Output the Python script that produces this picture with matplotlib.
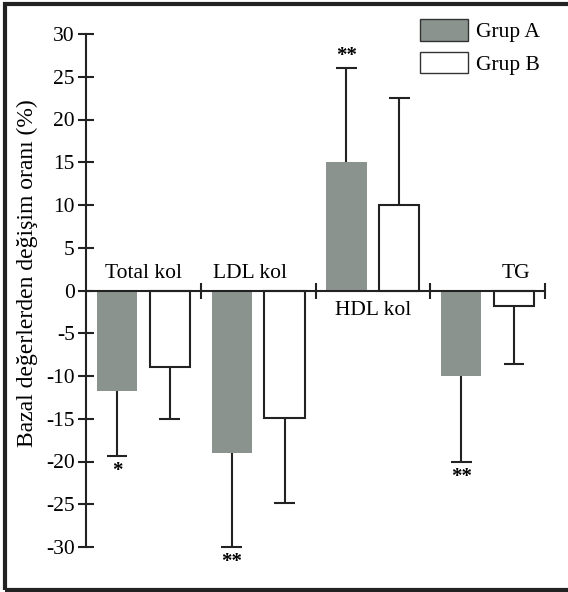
import matplotlib
matplotlib.use("Agg")
import matplotlib.pyplot as plt
import numpy as np
from matplotlib.patches import Rectangle

plt.rcParams['font.family'] = ['Liberation Serif', 'DejaVu Serif']
plt.rcParams['axes.unicode_minus'] = False

# data
groups = ["Total kol", "LDL kol", "HDL kol", "TG"]
grup_a = [-11.8, -19.0, 15.0, -10.0]
grup_b = [-9.0, -14.9, 10.0, -1.8]
err_a = [7.5, 11.0, 11.0, 10.0]
err_b = [6.0, 10.0, 12.5, 6.8]
stars_a = ["*", "**", "**", "**"]

fig = plt.figure(figsize=(5.68, 5.92), dpi=100)
ax = fig.add_axes([86/568, 45/592, 459/568, 513/592])

x = np.arange(len(groups))
w = 0.35
xa = x + 0.27
xb = x + 0.73

ax.bar(xa, grup_a, w, color='#8b938f', edgecolor='none', zorder=2)
ax.bar(xb, grup_b, w, color='white', edgecolor='#222222', linewidth=1.5, zorder=2)

# one sided error bars (away from zero) with caps
cap = 0.09
for xs, vals, errs in [(xa, grup_a, err_a), (xb, grup_b, err_b)]:
    for xi, v, e in zip(xs, vals, errs):
        end = v + np.sign(v) * e
        ax.vlines(xi, v, end, color='#222222', lw=1.5, zorder=3, clip_on=False)
        ax.hlines(end, xi - cap, xi + cap, color='#222222', lw=1.5, zorder=3, clip_on=False)

# significance stars
for xi, v, e, s in zip(xa, grup_a, err_a, stars_a):
    end = v + np.sign(v) * e
    if v < 0:
        ax.text(xi, end - 0.6, s, ha='center', va='top', fontsize=15, fontweight='bold')
    else:
        ax.text(xi, end + 0.3, s, ha='center', va='bottom', fontsize=15, fontweight='bold')

# category labels
lab_pos = [(0.5, 0.9, 'bottom'), (1.43, 0.9, 'bottom'), (2.5, -1.2, 'top'), (3.75, 0.9, 'bottom')]
for name, (px, py, va) in zip(groups, lab_pos):
    ax.text(px, py, name, ha='center', va=va, fontsize=15.5)

ax.set_xlim(0, 4)
ax.set_ylim(-30, 30)
ax.set_yticks(np.arange(-30, 31, 5))
ax.set_xticks([1, 2, 3, 4])
ax.set_xticklabels([])
ax.spines['bottom'].set_position(('data', 0))
ax.spines['top'].set_visible(False)
ax.spines['right'].set_visible(False)
ax.spines['left'].set_linewidth(1.5)
ax.spines['bottom'].set_linewidth(1.5)
ax.spines['left'].set_color('#222222')
ax.spines['bottom'].set_color('#222222')
ax.tick_params(axis='y', direction='inout', length=12, width=1.5, labelsize=15.5, pad=2, colors='#222222')
ax.tick_params(axis='x', direction='inout', length=11, width=1.5, colors='#222222')
for t in ax.get_yticklabels():
    t.set_color('black')
ax.set_ylabel("Bazal değerlerden değişim oranı (%)", fontsize=17)
ax.yaxis.set_label_coords(-0.105, 0.534)

# legend
h1 = Rectangle((0, 0), 1, 1, facecolor='#8b938f', edgecolor='#333333', lw=1)
h2 = Rectangle((0, 0), 1, 1, facecolor='white', edgecolor='#333333', lw=1)
fig.legend([h1, h2], ["Grup A", "Grup B"], loc='upper left',
           bbox_to_anchor=(401/568, 1 - 0/592), frameon=False, fontsize=15.5,
           handlelength=2.2, handleheight=1.15, handletextpad=0.4, labelspacing=0.45)

# outer frame
fig.add_artist(Rectangle((5/568, 2/592), 570/568, 586/592, transform=fig.transFigure,
                         fill=False, edgecolor='#222222', lw=3))

fig.savefig("out.png", dpi=100)
